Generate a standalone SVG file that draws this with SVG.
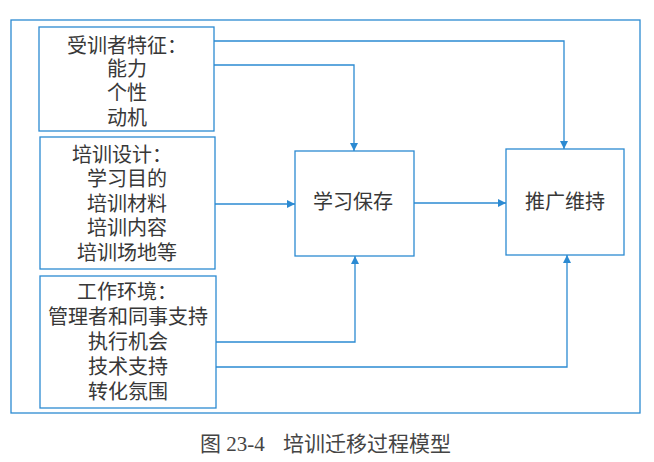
<svg xmlns="http://www.w3.org/2000/svg" width="654" height="462" viewBox="0 0 654 462">
<defs>
<marker id="arr" viewBox="0 0 10 10" refX="10" refY="5" markerWidth="10" markerHeight="8" markerUnits="userSpaceOnUse" orient="auto">
<path d="M0,0 L10,5 L0,10 z" fill="#2b8ad2"/>
</marker>
<style>
.box{fill:#fff;stroke:#2b8ad2;stroke-width:1.3}
.frame{fill:none;stroke:#2b8ad2;stroke-width:1.3}
.t{font-family:"Liberation Sans","Noto Sans CJK SC",sans-serif;font-size:20px;fill:#383838;text-anchor:middle;dominant-baseline:central}
.c{fill:none;stroke:#2b8ad2;stroke-width:1.3;marker-end:url(#arr)}
.cap{font-family:"Liberation Serif","Noto Sans CJK SC",serif;font-size:21px;fill:#444}
</style>
</defs>
<rect width="654" height="462" fill="#fff"/>
<rect class="frame" x="11" y="20" width="629" height="393"/>
<g id="trainee">
<rect class="box" x="39" y="27" width="175" height="104"/>
<text class="t" x="127" y="46">受训者特征：</text>
<text class="t" x="127" y="69">能力</text>
<text class="t" x="127" y="93">个性</text>
<text class="t" x="127" y="118">动机</text>
</g>
<g id="design">
<rect class="box" x="40" y="137" width="175" height="132"/>
<text class="t" x="122" y="155">培训设计：</text>
<text class="t" x="127" y="179">学习目的</text>
<text class="t" x="127" y="204">培训材料</text>
<text class="t" x="127" y="228">培训内容</text>
<text class="t" x="127" y="253">培训场地等</text>
</g>
<g id="env">
<rect class="box" x="40" y="276" width="176" height="132"/>
<text class="t" x="127" y="292">工作环境：</text>
<text class="t" x="128" y="317">管理者和同事支持</text>
<text class="t" x="128" y="342">执行机会</text>
<text class="t" x="128" y="367">技术支持</text>
<text class="t" x="128" y="392">转化氛围</text>
</g>
<g id="learn">
<rect class="box" x="295" y="151" width="119" height="105"/>
<text class="t" x="353" y="202">学习保存</text>
</g>
<g id="maintain">
<rect class="box" x="506" y="149" width="118" height="106"/>
<text class="t" x="565" y="202">推广维持</text>
</g>
<g id="connectors">
<path class="c" d="M214,41 H564 V149"/>
<path class="c" d="M214,65 H354 V151"/>
<path class="c" d="M215,204 H295"/>
<path class="c" d="M414,203 H506"/>
<path class="c" d="M216,342 H355 V256"/>
<path class="c" d="M216,367 H567 V255"/>
</g>
<text class="cap" x="200" y="451">图 23-4</text>
<text class="cap" x="283" y="451">培训迁移过程模型</text>
</svg>
